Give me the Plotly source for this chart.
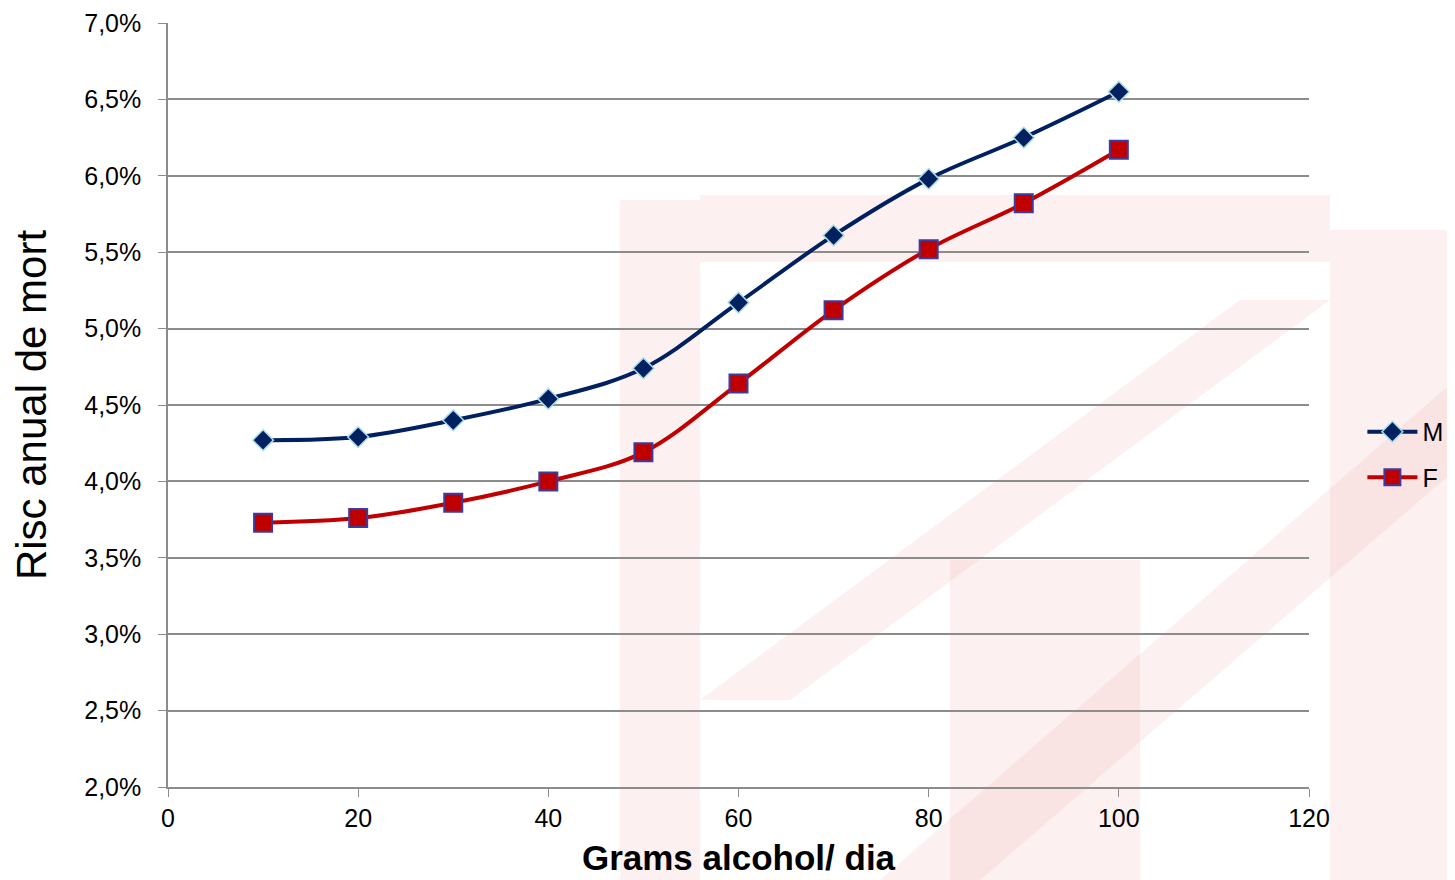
import plotly.graph_objects as go

# Data
grams = [10, 20, 30, 40, 50, 60, 70, 80, 90, 100]
risk_m = [4.27, 4.29, 4.40, 4.54, 4.74, 5.17, 5.61, 5.98, 6.25, 6.55]
risk_f = [3.73, 3.76, 3.86, 4.00, 4.19, 4.64, 5.12, 5.52, 5.82, 6.17]

fig = go.Figure()

fig.add_trace(go.Scatter(
    x=grams, y=risk_m, name="M", mode="lines+markers", legendgroup="m",
    line=dict(color="#002060", width=4, shape="spline"),
    marker=dict(symbol="diamond", size=16, color="#002060",
                line=dict(color="#a8dce6", width=1.5))
))
fig.add_trace(go.Scatter(
    x=grams, y=risk_f, name="F", mode="lines+markers", legendgroup="f",
    line=dict(color="#c00000", width=4, shape="spline"),
    marker=dict(symbol="square", size=18, color="#c00000",
                line=dict(color="#3b3ba0", width=2))
))

# faint pink watermark behind the chart (page pixel -> paper coords)
L, R, T, B = 168, 1309, 23, 787
def px(x):
    return (x - L) / (R - L)
def py(y):
    return (B - y) / (B - T)

pink = "rgba(236,160,160,0.16)"
wm = [
    (620, 200, 700, 880),
    (700, 195, 1330, 262),
    (950, 560, 1140, 880),
    (1330, 230, 1455, 880),
]
shapes = []
for x0, y0, x1, y1 in wm:
    shapes.append(dict(type="rect", xref="paper", yref="paper",
                       x0=px(x0), x1=px(x1), y0=py(y1), y1=py(y0),
                       fillcolor=pink, line=dict(width=0), layer="below"))
diag = [((700, 700), (790, 700), (1330, 300), (1240, 300)),
        ((880, 880), (980, 880), (1455, 470), (1455, 380))]
for pts in diag:
    path = "M " + " L ".join(f"{px(a)},{py(b)}" for a, b in pts) + " Z"
    shapes.append(dict(type="path", xref="paper", yref="paper", path=path,
                       fillcolor=pink, line=dict(width=0), layer="below"))

# page body has an 8px margin, so size the figure to fit the window
fig.update_layout(
    width=1447, height=872,
    margin=dict(l=160, r=146, t=15, b=93),
    paper_bgcolor="white", plot_bgcolor="rgba(0,0,0,0)",
    font=dict(family="Liberation Sans, Arial, sans-serif", size=25, color="black"),
    separators=",.",
    shapes=shapes,
    showlegend=True,
    legend=dict(xref="container", yref="container", x=0.936, y=0.488,
                xanchor="left", yanchor="middle",
                bgcolor="rgba(0,0,0,0)", font=dict(size=25),
                itemwidth=50, tracegroupgap=10),
    xaxis=dict(
        range=[0, 120], dtick=20, tick0=0,
        showgrid=False, zeroline=False, automargin=False,
        showline=True, linecolor="#8c8c8c", linewidth=1.5,
        ticks="outside", ticklen=8, tickcolor="#8c8c8c",
        title=dict(text="<b>Grams alcohol/ dia</b>", font=dict(size=35)),
    ),
    yaxis=dict(
        range=[2.0, 7.0], dtick=0.5, tick0=2.0,
        tickformat=".1f", ticksuffix="%",
        showgrid=True, gridcolor="#8c8c8c", gridwidth=1.5,
        zeroline=False, automargin="left+right",
        showline=True, linecolor="#8c8c8c", linewidth=1.5,
        ticks="outside", ticklen=8, tickcolor="#8c8c8c",
        ticklabelstandoff=12,
        title=dict(text="Risc anual de mort", font=dict(size=42), standoff=30),
    ),
)

fig.write_html("out.html")
